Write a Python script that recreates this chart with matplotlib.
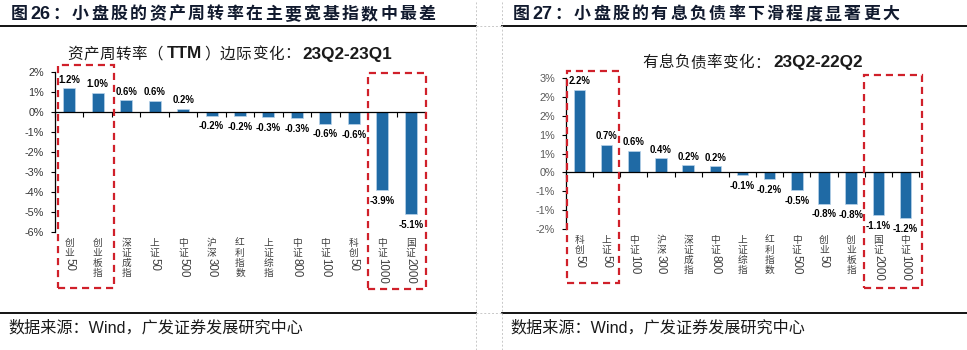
import math
import numpy as np
import matplotlib
matplotlib.use("Agg")
import matplotlib.pyplot as plt
from matplotlib.lines import Line2D
from matplotlib.patches import Rectangle
from matplotlib.transforms import offset_copy

# ---- data ----
left_cats = ["创业50", "创业板指", "深证成指", "上证50", "中证500", "沪深300", "红利指数",
             "上证综指", "中证800", "中证100", "科创50", "中证1000", "国证2000"]
left_vals = [1.18, 0.97, 0.60, 0.56, 0.17, -0.18, -0.21, -0.27, -0.30, -0.58, -0.62, -3.90, -5.10]
left_ticks = [-6, -5, -4, -3, -2, -1, 0, 1, 2]

right_cats = ["科创50", "上证50", "中证100", "沪深300", "深证成指", "中证800", "上证综指",
              "红利指数", "中证500", "创业50", "创业板指", "国证2000", "中证1000"]
right_vals = [2.18, 0.73, 0.57, 0.38, 0.19, 0.16, -0.07, -0.18, -0.47, -0.83, -0.84, -1.13, -1.21]
right_ticks = [-1.5, -1.0, -0.5, 0, 0.5, 1.0, 1.5, 2.0, 2.5]

left_title = "小盘股的资产周转率在主要宽基指数中最差"
right_title = "小盘股的有息负债率下滑程度显著更大"
source = "数据来源：Wind，广发证券发展研究中心"

# ---- style ----
W, H = 967, 350
CJK = "Noto Sans CJK SC"
LAT = "Liberation Sans"
MIX = [LAT, CJK, "DejaVu Sans"]
BAR = "#1f6aa5"
RED = "#d0202a"
plt.rcParams["font.family"] = MIX

fig = plt.figure(figsize=(W / 100, H / 100), dpi=100)
renderer = fig.canvas.get_renderer()


def fx(px):
    return px / W


def fy(py):
    return 1 - py / H


def text_run(x, y, pieces, gap=0.0):
    # place text pieces one after another on a common baseline (pixel coords)
    for s, kw in pieces:
        t = fig.text(fx(x), fy(y), s, ha="left", va="baseline", **kw)
        x += t.get_window_extent(renderer).width + gap
    return x


def pct_round(v, _pos=None):
    # whole-percent labels, halves rounded away from zero
    r = int(math.floor(abs(v) + 0.5))
    if r == 0:
        return "0%"
    return f"{'-' if v < 0 else ''}{r}%"


def stacked_label(ax, x, text, top):
    # vertical category label: CJK upright one per line, digits turned
    y = top
    i = 0
    while i < len(text):
        tr = offset_copy(ax.get_xaxis_transform(), fig=fig, x=0, y=-y, units="dots")
        if text[i].isdigit():
            j = i
            while j < len(text) and text[j].isdigit():
                j += 1
            ax.text(x, 0, text[i:j], rotation=-90, ha="center", va="top",
                    transform=tr, fontsize=8.3, family=LAT, color="#404040")
            i = j
        else:
            ax.text(x, 0, text[i], ha="center", va="top", transform=tr,
                    fontsize=7.0, family=CJK, color="#404040")
            y += 10
            i += 1


def draw_panel(ax, cats, vals, ylim, ticks, label_top, tick_color):
    n = len(cats)
    xs = np.arange(n)
    ax.bar(xs, vals, width=0.42, color=BAR, edgecolor="#b9d3ea", linewidth=0.5, zorder=2)
    ax.set_xlim(-0.5, n - 0.5)
    ax.set_ylim(*ylim)
    ax.set_yticks(ticks)
    ax.yaxis.set_major_formatter(plt.FuncFormatter(pct_round))
    for s in ["top", "right"]:
        ax.spines[s].set_visible(False)
    ax.spines["bottom"].set_position(("data", 0))
    ax.spines["bottom"].set_zorder(3)
    ax.spines["left"].set_linewidth(0.9)
    ax.spines["bottom"].set_linewidth(0.9)
    ax.set_xticks(np.arange(-0.5, n, 1))
    ax.tick_params(axis="x", direction="out", length=3.5, width=0.8, labelbottom=False)
    ax.tick_params(axis="y", direction="out", length=3, width=0.8, pad=5,
                   labelsize=7.8, labelcolor=tick_color)
    for lab in ax.get_yticklabels():
        lab.set_family(LAT)
    ax.patch.set_alpha(0)
    for x, v in zip(xs, vals):
        if v >= 0:
            ax.annotate(f"{v:.1f}%", (x, v), xytext=(0, 2.5), textcoords="offset points",
                        ha="center", va="bottom", fontsize=6.9, fontweight="bold", family=LAT)
        else:
            ax.annotate(f"{v:.1f}%", (x, v), xytext=(0, -4), textcoords="offset points",
                        ha="center", va="top", fontsize=6.9, fontweight="bold", family=LAT)
    for x, c in zip(xs, cats):
        stacked_label(ax, x, c, label_top)


def red_box(ax, x0, x1, y0, y1):
    tr = ax.get_xaxis_transform()
    ax.add_patch(Rectangle((x0, y0), x1 - x0, y1 - y0, transform=tr, fill=False,
                           edgecolor=RED, linewidth=1.6, linestyle=(0, (3.2, 2.2)),
                           clip_on=False, zorder=4))


# ---- left chart ----
axL = fig.add_axes([fx(55), fy(232), 370 / W, 160 / H])
draw_panel(axL, left_cats, left_vals, (-6, 2), left_ticks, 6, "#333333")
red_box(axL, -0.40, 1.57, -0.35, 1.044)
red_box(axL, 10.50, 12.54, -0.356, 0.994)

# ---- right chart ----
axR = fig.add_axes([fx(566), fy(229.3), 353 / W, 151.6 / H])
draw_panel(axR, right_cats, right_vals, (-1.5, 2.5), right_ticks, 6, "#595959")
red_box(axR, -0.46, 1.46, -0.354, 1.044)
red_box(axR, 10.48, 12.61, -0.385, 1.018)

# ---- titles ----
title_kw_c = dict(family=CJK, fontsize=12.2, fontweight="bold", color="#111a2e")
title_kw_l = dict(family=LAT, fontsize=13, fontweight="bold", color="#111a2e")
for x0, num, rest in [(11, "26", left_title), (513, "27", right_title)]:
    pcs = [("图", title_kw_c), (num, title_kw_l), ("：", title_kw_c)]
    pcs += [(ch, title_kw_c) for ch in rest]
    text_run(x0, 19, pcs, gap=2.4)

sub_c = dict(family=CJK, fontsize=11.2, color="#1a1a1a")
sub_b = dict(family=LAT, fontsize=12.3, fontweight="bold", color="#1a1a1a")
x = text_run(67, 58.5, [(ch, sub_c) for ch in "资产周转率（"], gap=0.6)
x = text_run(x + 3, 58.5, [("TTM", sub_b)])
x = text_run(x + 2, 58.5, [(ch, sub_c) for ch in "）边际变化："], gap=0.6)
text_run(x + 2, 58.5, [("23Q2-23Q1", sub_b)])

x = text_run(642, 67.5, [(ch, sub_c) for ch in "有息负债率变化："], gap=0.6)
text_run(x + 3, 67.5, [("23Q2-22Q2", sub_b)])

# ---- source notes ----
for x0 in (8, 510):
    fig.text(fx(x0), fy(332), source, ha="left", va="baseline",
             fontsize=11.6, family=MIX, color="#1a1a1a")

# ---- frame lines ----
for y in (26, 313):
    fig.add_artist(Line2D([fx(0), fx(476)], [fy(y), fy(y)], color="black", lw=1.3))
    fig.add_artist(Line2D([fx(502), fx(967)], [fy(y), fy(y)], color="black", lw=1.3))
    fig.add_artist(Line2D([fx(476), fx(502)], [fy(y), fy(y)], color="#c8c8c8",
                          lw=0.7, linestyle=(0, (2, 2))))
for x in (476, 502):
    fig.add_artist(Line2D([fx(x), fx(x)], [0, 1], color="#c8c8c8", lw=0.7,
                          linestyle=(0, (2, 2))))

fig.savefig("out.png", dpi=100)
